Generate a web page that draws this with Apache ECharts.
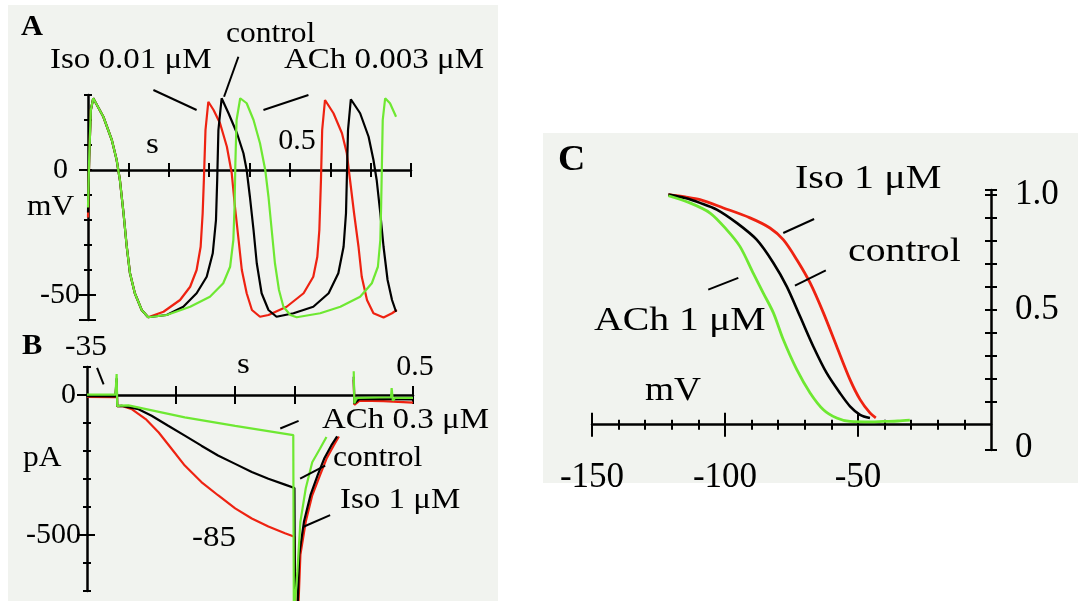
<!DOCTYPE html>
<html><head><meta charset="utf-8">
<script src="https://cdn.jsdelivr.net/npm/echarts@6/dist/echarts.min.js"></script>
<style>html,body{margin:0;padding:0;background:#fff}#c{width:1088px;height:601px}</style>
</head><body><div id="c"></div>
<script>
// ---------- Panel A: action potentials [s, mV] ----------
const aIso = [[0.000,-19],[0.003,5],[0.007,24],[0.013,28.7],[0.038,21.3],[0.059,12],[0.071,4],[0.079,-4],[0.088,-17.3],[0.096,-30.7],[0.104,-41.3],[0.116,-49.3],[0.133,-56],[0.149,-58.9],
  [0.187,-56.7],[0.228,-52],[0.253,-46.7],[0.269,-40],[0.279,-30.7],[0.284,-17.3],[0.287,-4],[0.291,16],[0.298,27.3],
  [0.311,24],[0.327,18.7],[0.344,9.3],[0.356,-1.3],[0.364,-14.7],[0.373,-28],[0.381,-40],[0.393,-49.3],[0.406,-56],[0.426,-58.7],[0.447,-58],
  [0.492,-54.7],[0.534,-49.3],[0.558,-42.7],[0.568,-34.7],[0.573,-24],[0.577,-4],[0.580,16],[0.587,28],
  [0.608,22.7],[0.629,14.7],[0.641,6.7],[0.649,-4],[0.659,-17.3],[0.670,-30.7],[0.678,-42.7],[0.691,-52],[0.707,-57.3],[0.732,-59],[0.753,-57.3],[0.765,-56]];
const aControl = [[0.000,-17],[0.003,5],[0.007,24],[0.013,28.7],[0.038,21.3],[0.059,12],[0.071,4],[0.079,-4],[0.088,-17.3],[0.096,-30.7],[0.104,-41.3],[0.116,-49.3],[0.133,-56],[0.149,-58.9],
  [0.195,-58],[0.236,-54.7],[0.269,-49.3],[0.294,-42.7],[0.309,-33.3],[0.317,-20],[0.320,-4],[0.323,16],[0.331,28.7],
  [0.348,22.7],[0.369,14.7],[0.385,6.7],[0.393,0],[0.401,-10.7],[0.410,-24],[0.418,-37.3],[0.430,-49.3],[0.447,-56],[0.467,-58.7],
  [0.509,-57.3],[0.558,-54.7],[0.596,-49.3],[0.620,-41.3],[0.633,-30.7],[0.639,-17.3],[0.641,-4],[0.644,16],[0.651,28.3],
  [0.674,22.7],[0.695,13.3],[0.707,4],[0.715,-4],[0.724,-17.3],[0.732,-30.7],[0.742,-44],[0.753,-52],[0.763,-56.7]];
const aACh = [[0.000,-15],[0.003,5],[0.007,24],[0.013,28.7],[0.038,21.3],[0.059,12],[0.071,4],[0.079,-4],[0.088,-17.3],[0.096,-30.7],[0.104,-41.3],[0.116,-49.3],[0.133,-56],[0.149,-58.9],
  [0.195,-58],[0.253,-54.7],[0.302,-50.7],[0.335,-45.3],[0.352,-38.7],[0.360,-28],[0.363,-14.7],[0.365,2.7],[0.368,20],[0.377,28.7],
  [0.393,26.7],[0.410,20],[0.426,10.7],[0.439,0],[0.447,-10.7],[0.455,-24],[0.463,-37.3],[0.473,-48],[0.484,-54.7],[0.501,-58],[0.517,-58.9],
  [0.575,-57.3],[0.625,-54.7],[0.674,-50.7],[0.703,-45.3],[0.718,-38.7],[0.724,-28],[0.726,-14.7],[0.728,2.7],[0.730,20],[0.736,28.7],
  [0.748,26.7],[0.763,21.3]];

// ---------- Panel B: currents [s, pA] ----------
const bIso = [[-0.05,-7],[-0.002,-8],[0.000,50],[0.001,-40],[0.009,-39],[0.026,-51],[0.049,-86],[0.071,-134],[0.093,-193],[0.115,-252],[0.143,-311],[0.171,-358],[0.200,-405],[0.228,-441],[0.256,-470],[0.284,-494],[0.300,-506],
  [0.302,-790],[0.306,-790],[0.310,-571],[0.319,-453],[0.330,-358],[0.343,-287],[0.354,-228],[0.366,-181],[0.375,-148],
  '-', [0.400,55],[0.401,-35],[0.410,-20],[0.450,-22],[0.500,-27]];
const bControl = [[-0.05,-4],[-0.002,-5],[0.000,60],[0.001,-40],[0.009,-39],[0.037,-51],[0.059,-74],[0.087,-110],[0.115,-145],[0.143,-181],[0.171,-216],[0.200,-246],[0.228,-275],[0.256,-299],[0.284,-320],[0.300,-332],
  [0.301,-790],[0.305,-790],[0.308,-571],[0.316,-453],[0.327,-358],[0.339,-287],[0.350,-228],[0.362,-181],[0.372,-148],
  '-', [0.400,65],[0.401,-30],[0.410,-14],[0.500,-16]];
const bACh = [[-0.05,1],[-0.002,1],[0.000,75],[0.001,-40],[0.006,-38],[0.020,-37],[0.115,-80],[0.200,-110],[0.298,-143],
  [0.299,-790],[0.302,-790],[0.305,-630],[0.310,-453],[0.319,-334],[0.330,-240],[0.343,-192],[0.354,-150],
  '-', [0.400,85],[0.401,-30],[0.405,-10],[0.463,-8],[0.464,25],[0.466,-20],[0.470,-10],[0.500,-10]];

// ---------- Panel C: activation curves [mV, relative] ----------
const cIso = [[-121.3,1.0],[-115,0.99],[-109.4,0.978],[-100.6,0.942],[-90.6,0.899],[-83.1,0.855],[-78.1,0.804],[-73,0.717],[-68,0.616],[-63,0.486],[-58,0.34],[-53,0.196],[-49.2,0.109],[-45.5,0.051],[-43.3,0.03]];
const cControl = [[-121.3,1.0],[-115,0.985],[-109.4,0.964],[-103.1,0.935],[-95.6,0.877],[-88.1,0.804],[-81.8,0.703],[-76.8,0.601],[-71.8,0.471],[-66.8,0.34],[-61.8,0.225],[-56.8,0.138],[-53,0.08],[-49.2,0.043],[-45.5,0.029]];
const cACh = [[-121.3,0.995],[-113.2,0.964],[-105.6,0.92],[-99.4,0.848],[-94.4,0.775],[-89.4,0.659],[-85.6,0.572],[-81.8,0.486],[-78.1,0.37],[-73,0.239],[-68,0.138],[-63,0.065],[-58,0.029],[-53,0.014],[-45,0.012],[-40.5,0.014],[-35,0.016],[-30.5,0.02]];

// ---------- ticks & labels ----------
const aXTicks = [0.1,0.2,0.3,0.4,0.5,0.6,0.7,0.8];
const aXLabelVals = [0.5];
const aYTicks = [30,20,10,0,-10,-20,-30,-40,-50,-60];
const aYLabelVals = [0,-50];
const bXTicks = [0.1,0.2,0.3,0.4,0.5];
const bXLabelVals = [0.5];
const bYTicks = [100,0,-100,-200,-300,-400,-500,-600,-700];
const bYLabelVals = [0,-500];
const cXTicks = [-140,-130,-120,-110,-90,-80,-70,-60,-40,-30,-20,-10];
const cXMajor = [-150,-100,-50];
const cYTicks = [-0.11,0.1,0.2,0.3,0.4,0.5,0.6,0.7,0.8,0.9,1.0,1.02];
const cYLabelVals = [0,0.5,1.0];

// ---------- annotation leader lines (data coordinates) ----------
const aLeaders = [[[0.162,32],[0.269,24]],[[0.3725,45.3],[0.337,29.3]],[[0.4345,24],[0.546,30]]];
const bLeaders = [[[-0.033,97],[-0.022,38]],[[0.276,-119.5],[0.307,-92.2]],[[0.3096,-299],[0.3518,-252]],[[0.3152,-470.6],[0.3602,-429]]];
const cLeaders = [[[-78.1,0.833],[-66.5,0.894]],[[-73.7,0.604],[-62.1,0.671]],[[-106.3,0.587],[-95.0,0.638]]];

const FONT = '"Liberation Serif", "Times New Roman", serif';
const RED = '#ee2211', BLACK = '#000000', GREEN = '#6ee832', BG = '#f1f3ef';

function axis(gi, min, max, cfg) {
  const a = {
    type: 'value', gridIndex: gi, min: min, max: max, position: cfg.position,
    splitLine: {show: false}, splitArea: {show: false},
    axisLine: {show: true, onZero: !!cfg.onZero,
      lineStyle: {color: '#000', width: 2.5, opacity: cfg.line ? 1 : 0}},
    axisTick: cfg.ticks ? {show: true, customValues: cfg.ticks, length: cfg.len, inside: !!cfg.inside,
      lineStyle: {color: '#000', width: 2}} : {show: false},
    axisLabel: {show: false},
    z: 3
  };
  if (cfg.onZeroAxisIndex != null) a.axisLine.onZeroAxisIndex = cfg.onZeroAxisIndex;
  if (cfg.labels) {
    a.axisLabel = {show: true, customValues: cfg.labels, color: '#000', fontFamily: FONT,
      fontSize: cfg.fontSize, margin: cfg.margin, inside: !!cfg.labelInside,
      formatter: cfg.formatter, rich: cfg.rich || {}};
  }
  return a;
}

const xAxes = [
  // A (index 0,1) — labels of an on-zero axis sit at the grid edge, hence the large margin
  axis(0, 0, 0.8, {position:'bottom', onZero:true, onZeroAxisIndex:0, line:true, ticks:aXTicks, len:7,
    labels:aXLabelVals, fontSize:30, margin:164, labelInside:true,
    formatter: v => '{p|' + v + '}', rich:{p:{fontFamily:FONT, fontSize:30, color:'#000', padding:[0,0,0,14]}}}),
  axis(0, 0, 0.8, {position:'bottom', onZero:true, onZeroAxisIndex:0, ticks:aXTicks, len:7, inside:true}),
  // B (index 2,3)
  axis(1, -0.05, 0.5, {position:'bottom', onZero:true, onZeroAxisIndex:4, line:true, ticks:bXTicks, len:9,
    labels:bXLabelVals, fontSize:30, margin:209, labelInside:true,
    formatter: v => '{p|' + v + '}', rich:{p:{fontFamily:FONT, fontSize:30, color:'#000', padding:[0,0,0,4]}}}),
  axis(1, -0.05, 0.5, {position:'bottom', onZero:true, onZeroAxisIndex:4, ticks:bXTicks, len:9, inside:true}),
  // C (index 4..7)
  axis(2, -150, 0, {position:'bottom', onZero:true, onZeroAxisIndex:8, line:true, ticks:cXTicks, len:5,
    labels:cXMajor, fontSize:35, margin:10, formatter: v => String(v)}),
  axis(2, -150, 0, {position:'bottom', onZero:true, onZeroAxisIndex:8, ticks:cXTicks, len:5, inside:true}),
  axis(2, -150, 0, {position:'bottom', onZero:true, onZeroAxisIndex:8, ticks:cXMajor, len:12}),
  axis(2, -150, 0, {position:'bottom', onZero:true, onZeroAxisIndex:8, ticks:cXMajor, len:12, inside:true})
];

const yAxes = [
  // A (0..3)
  axis(0, -60, 30, {position:'left', line:true, ticks:aYTicks, len:4, labels:aYLabelVals, fontSize:30, margin:8,
    formatter: v => v === 0 ? '{z|0}' : String(v), rich:{z:{fontFamily:FONT, fontSize:30, color:'#000', padding:[0,12,0,0]}}}),
  axis(0, -60, 30, {position:'left', ticks:aYTicks, len:4, inside:true}),
  axis(0, -60, 30, {position:'left', ticks:[0,-50,-60], len:9}),
  axis(0, -60, 30, {position:'left', ticks:[-50,-60], len:8, inside:true}),
  // B (4..7)
  axis(1, -700, 100, {position:'left', line:true, ticks:bYTicks, len:4, labels:bYLabelVals, fontSize:30, margin:6,
    formatter: v => v === 0 ? '{z|0}' : String(v), rich:{z:{fontFamily:FONT, fontSize:30, color:'#000', padding:[0,5,0,0]}}}),
  axis(1, -700, 100, {position:'left', ticks:bYTicks, len:4, inside:true}),
  axis(1, -700, 100, {position:'left', ticks:[0,-500], len:10}),
  axis(1, -700, 100, {position:'left', ticks:[-500], len:8, inside:true}),
  // C (8,9)
  axis(2, -0.11, 1.02, {position:'right', line:true, ticks:cYTicks, len:6, labels:cYLabelVals, fontSize:35, margin:24,
    formatter: v => v === 0 ? '{z|0}' : v.toFixed(1), rich:{z:{fontFamily:FONT, fontSize:35, color:'#000', padding:[46,0,0,0]}}}),
  axis(2, -0.11, 1.02, {position:'right', ticks:cYTicks, len:6, inside:true})
];

function trace(data, color, xi, yi, extra) {
  return Object.assign({type:'line', data: data, xAxisIndex: xi, yAxisIndex: yi, showSymbol:false, symbol:'none',
    connectNulls:false, silent:true, lineStyle:{color: color, width: 2.2}, z: 4}, extra || {});
}
function leaders(list, xi, yi) {
  return list.map(seg => ({type:'line', data: seg, xAxisIndex: xi, yAxisIndex: yi, symbol:'none', showSymbol:false,
    silent:true, clip:false, lineStyle:{color:'#000', width:2}, z:5}));
}

const series = [
  trace(aIso, RED, 0, 0), trace(aControl, BLACK, 0, 0), trace(aACh, GREEN, 0, 0),
  trace(bIso, RED, 2, 4, {clip:false}), trace(bControl, BLACK, 2, 4, {clip:false}), trace(bACh, GREEN, 2, 4, {clip:false}),
  trace(cIso, RED, 4, 8, {smooth:0.3, lineStyle:{color:RED, width:2.8}}),
  trace(cControl, BLACK, 4, 8, {smooth:0.3, lineStyle:{color:BLACK, width:2.6}}),
  trace(cACh, GREEN, 4, 8, {smooth:0.3, lineStyle:{color:GREEN, width:2.8}})
].concat(leaders(aLeaders, 0, 0), leaders(bLeaders, 2, 4), leaders(cLeaders, 4, 8));

function txt(text, x, y, size, sx, bold) {
  return {type:'text', x: x, y: y, scaleX: sx, z: 10, silent:true,
    style:{text: text, font: (bold ? 'bold ' : '') + size + 'px ' + FONT, fill:'#000', align:'left', verticalAlign:'middle'}};
}

const graphic = [
  {type:'rect', shape:{x:8, y:5, width:490, height:596}, style:{fill:BG}, z:-10, silent:true},
  {type:'rect', shape:{x:543, y:133, width:535, height:350}, style:{fill:BG}, z:-10, silent:true},
  // Panel A
  txt('A', 21, 28, 29, 1.05, true),
  txt('Iso 0.01 \u03bcM', 50, 60, 30, 1.1),
  txt('control', 226, 34, 30, 1.05),
  txt('ACh 0.003 \u03bcM', 284, 60, 30, 1.1),
  txt('s', 146, 145, 30, 1.1),
  txt('mV', 27, 207, 30, 1.05),
  // Panel B
  txt('B', 22, 347, 29, 1.05, true),
  txt('-35', 65, 347, 30, 1.05),
  txt('s', 237, 365, 30, 1.1),
  txt('pA', 23, 458, 30, 1.05),
  txt('-85', 192, 538, 30, 1.1),
  txt('ACh 0.3 \u03bcM', 322, 420, 30, 1.1),
  txt('control', 333, 458, 30, 1.05),
  txt('Iso 1 \u03bcM', 340, 500, 30, 1.1),
  // Panel C
  txt('C', 558, 161, 36, 1.05, true),
  txt('Iso 1 \u03bcM', 795, 179, 34, 1.18),
  txt('control', 848, 252, 34, 1.17),
  txt('ACh 1 \u03bcM', 594, 321, 34, 1.17),
  txt('mV', 645, 391, 34, 1.1)
];

const chart = echarts.init(document.getElementById('c'), null, {renderer:'canvas'});
chart.setOption({
  backgroundColor: '#ffffff',
  animation: false,
  grid: [
    {left:88, top:95, width:323, height:225, outerBoundsMode:'none'},
    {left:87, top:367, width:326, height:224, outerBoundsMode:'none'},
    {left:592, top:190, width:399, height:260, outerBoundsMode:'none'}
  ],
  xAxis: xAxes,
  yAxis: yAxes,
  series: series,
  graphic: graphic
});
</script></body></html>
